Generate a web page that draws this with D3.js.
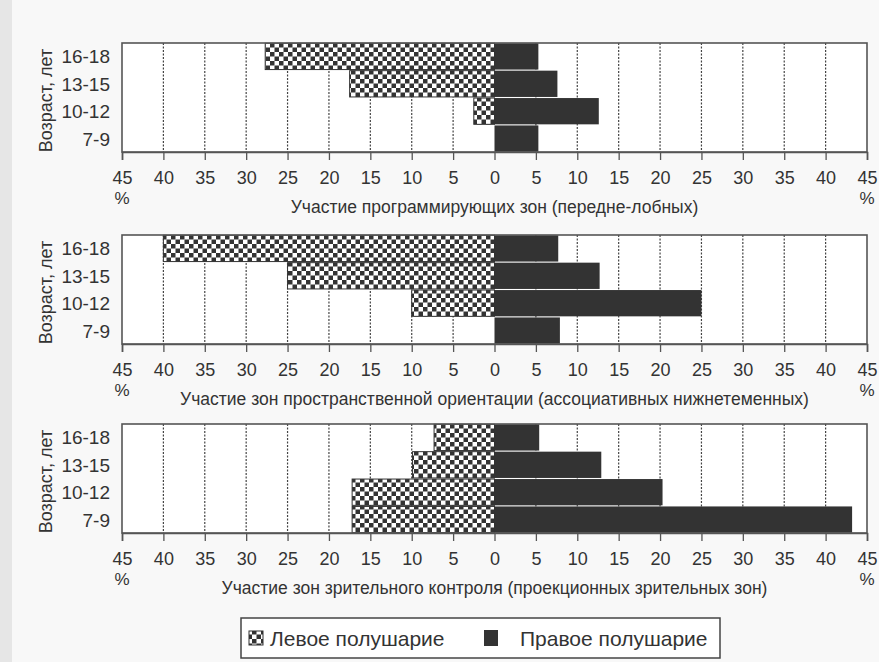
<!DOCTYPE html>
<html>
<head>
<meta charset="utf-8">
<script src="https://cdn.jsdelivr.net/npm/d3@7"></script>
<style>
  html, body { margin: 0; padding: 0; background: #f8f8f8; }
  svg { display: block; }
  text { font-family: "Liberation Sans", Arial, sans-serif; fill: #333; }
</style>
</head>
<body>
<svg id="chart" width="879" height="662"></svg>
<script>
// ---------- data ----------
const ageGroups = ["16-18", "13-15", "10-12", "7-9"];
const panelTitles = [
  "Участие программирующих зон (передне-лобных)",
  "Участие зон пространственной ориентации (ассоциативных нижнетеменных)",
  "Участие зон зрительного контроля (проекционных зрительных зон)"
];
// left hemisphere (%), per age group in order of ageGroups
const leftFrontal   = [27.7, 17.5, 2.5, 0];
const rightFrontal  = [5.3, 7.6, 12.6, 5.3];
const leftParietal  = [40, 25, 10, 0];
const rightParietal = [7.7, 12.7, 25, 7.9];
const leftVisual    = [7.3, 9.9, 17.2, 17.2];
const rightVisual   = [5.4, 12.9, 20.3, 43.2];
const tickValues = [-45,-40,-35,-30,-25,-20,-15,-10,-5,0,5,10,15,20,25,30,35,40,45];
const gridValues = [-40,-35,-30,-25,-20,-15,-10,-5,5,10,15,20,25,30,35,40];
const yAxisLabel = "Возраст, лет";
const legendLabels = ["Левое полушарие", "Правое полушарие"];
const unitLabel = "%";

const panels = [
  {title: panelTitles[0], left: leftFrontal,  right: rightFrontal},
  {title: panelTitles[1], left: leftParietal, right: rightParietal},
  {title: panelTitles[2], left: leftVisual,   right: rightVisual}
];

// ---------- layout ----------
const svg = d3.select("#chart");
const dark = "#333";
const panelTops = [43, 235, 424];
const plotH = 109;
const x = d3.scaleLinear().domain([-45, 45]).range([122, 867]);

const defs = svg.append("defs");
const pat = defs.append("pattern").attr("id", "checker")
  .attr("patternUnits", "userSpaceOnUse").attr("width", 9).attr("height", 9);
pat.append("rect").attr("width", 9).attr("height", 9).attr("fill", "#fff");
pat.append("rect").attr("x", 0).attr("y", 0).attr("width", 4.5).attr("height", 4.5).attr("fill", dark);
pat.append("rect").attr("x", 4.5).attr("y", 4.5).attr("width", 4.5).attr("height", 4.5).attr("fill", dark);

svg.append("rect").attr("width", 879).attr("height", 662).attr("fill", "#f8f8f8");
svg.append("rect").attr("width", 12).attr("height", 662).attr("fill", "#e6e6e6");

panels.forEach((p, i) => {
  const top = panelTops[i];
  const g = svg.append("g").attr("transform", `translate(0,${top})`);
  const y = d3.scaleBand().domain(ageGroups).range([0, plotH]).paddingInner(0.04).paddingOuter(0.01);

  g.append("rect").attr("x", x(-45)).attr("y", 0).attr("width", x(45) - x(-45)).attr("height", plotH)
    .attr("fill", "#fff");

  // grid
  g.selectAll(".grid").data(gridValues).join("line")
    .attr("x1", d => x(d)).attr("x2", d => x(d))
    .attr("y1", 0).attr("y2", plotH)
    .attr("stroke", "#444").attr("stroke-width", 1.2).attr("stroke-dasharray", "2,1.5");

  // left bars
  g.selectAll(".lb").data(ageGroups.map((a, k) => ({a, v: p.left[k]})).filter(d => d.v > 0)).join("rect")
    .attr("x", d => x(-d.v)).attr("y", d => y(d.a))
    .attr("width", d => x(0) - x(-d.v)).attr("height", y.bandwidth())
    .attr("fill", "url(#checker)").attr("stroke", dark).attr("stroke-width", 1);

  // right bars
  g.selectAll(".rb").data(ageGroups.map((a, k) => ({a, v: p.right[k]}))).join("rect")
    .attr("x", x(0)).attr("y", d => y(d.a))
    .attr("width", d => x(d.v) - x(0)).attr("height", y.bandwidth())
    .attr("fill", dark);

  // frame
  g.append("rect").attr("x", x(-45)).attr("y", 0).attr("width", x(45) - x(-45)).attr("height", plotH)
    .attr("fill", "none").attr("stroke", "#555").attr("stroke-width", 1.6);

  // x axis
  const ax = g.append("g").attr("transform", `translate(0,${plotH})`)
    .call(d3.axisBottom(x).tickValues(tickValues).tickFormat(d => Math.abs(d)).tickSize(8).tickPadding(11));
  ax.select(".domain").attr("stroke", "#555").attr("stroke-width", 1.6);
  ax.selectAll(".tick line").attr("stroke", "#555").attr("stroke-width", 1.3);
  ax.selectAll(".tick text").attr("font-size", 18).attr("fill", "#333")
    .style("font-family", '"Liberation Sans", Arial, sans-serif');

  // % marks
  [-45, 45].forEach(v => {
    g.append("text").attr("x", x(v)).attr("y", plotH + 52).attr("text-anchor", "middle")
      .attr("font-size", 17).text(unitLabel);
  });

  // title
  g.append("text").attr("x", x(0)).attr("y", plotH + 61).attr("text-anchor", "middle")
    .attr("font-size", 17.5).text(p.title);

  // y labels
  g.selectAll(".yl").data(ageGroups).join("text")
    .attr("x", 110).attr("y", d => y(d) + y.bandwidth() / 2 + 7)
    .attr("text-anchor", "end").attr("font-size", 19).text(d => d);

  g.append("text").attr("transform", `translate(52,${plotH / 2 + 3}) rotate(-90)`)
    .attr("text-anchor", "middle").attr("font-size", 18).text(yAxisLabel);
});

// legend
const lg = svg.append("g");
lg.append("rect").attr("x", 241).attr("y", 618).attr("width", 479).attr("height", 40)
  .attr("fill", "#fff").attr("stroke", "#444").attr("stroke-width", 1.5);
lg.append("rect").attr("x", 249).attr("y", 631).attr("width", 14).attr("height", 14)
  .attr("fill", "url(#checker)").attr("stroke", dark).attr("stroke-width", 1);
lg.append("text").attr("x", 270).attr("y", 646).attr("font-size", 21).text(legendLabels[0]);
lg.append("rect").attr("x", 484).attr("y", 630).attr("width", 14).attr("height", 16).attr("fill", dark);
lg.append("text").attr("x", 520).attr("y", 646).attr("font-size", 21).text(legendLabels[1]);
</script>
</body>
</html>
